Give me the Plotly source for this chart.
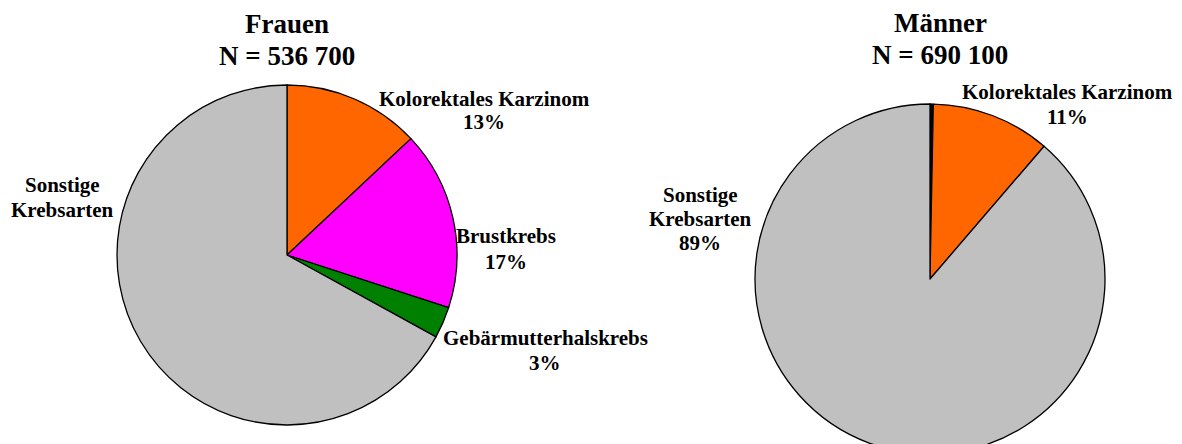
import plotly.graph_objects as go

# page offset of the figure (default body margin) is compensated below
OFF = 8
W, H = 1182, 470

# ---- data ----
frauen_title = "Frauen"
frauen_n = "N = 536 700"
frauen_labels = ["Kolorektales Karzinom", "Brustkrebs", "Gebärmutterhalskrebs", "Sonstige Krebsarten"]
frauen_values = [13, 17, 3, 67]
frauen_pct = ["13%", "17%", "3%", None]

maenner_title = "Männer"
maenner_n = "N = 690 100"
maenner_labels = ["(ohne Beschriftung)", "Kolorektales Karzinom", "Sonstige Krebsarten"]
maenner_values = [0.3, 11, 88.7]
maenner_pct = [None, "11%", "89%"]

# ---- styles ----
frauen_colors = ["#FF6600", "#FF00FF", "#008000", "#C0C0C0"]
maenner_colors = ["#000000", "#FF6600", "#C0C0C0"]
FONT = "Liberation Serif"


def px_x(x):
    return (x - OFF) / W


def px_y(y):
    return 1 - (y - OFF) / H


def pie(labels, values, colors, x0, x1, y_top, y_bot):
    return go.Pie(
        labels=labels, values=values, sort=False, direction="clockwise", rotation=0,
        marker=dict(colors=colors, line=dict(color="black", width=1.3)),
        textinfo="none", hoverinfo="label+percent", showlegend=False,
        domain=dict(x=[px_x(x0), px_x(x1)], y=[px_y(y_bot), px_y(y_top)]),
    )


fig = go.Figure()
fig.add_trace(pie(frauen_labels, frauen_values, frauen_colors, 117, 457, 85, 425))
fig.add_trace(pie(maenner_labels, maenner_values, maenner_colors, 755, 1105, 104, 454))

annotations = []


def add_text(text, x, y, size):
    annotations.append(dict(
        text=text, x=px_x(x), y=px_y(y), xref="paper", yref="paper",
        xanchor="center", yanchor="middle", showarrow=False,
        font=dict(family=FONT, size=size, color="black", weight="bold"),
    ))


# titles
add_text(frauen_title, 287, 24, 27)
add_text(frauen_n, 287, 56, 27)
add_text(maenner_title, 940, 23, 27)
add_text(maenner_n, 940, 55, 27)

LS = 21
frauen_pos = [
    (484, [99], 122),
    (506, [236], 262),
    (545, [338], 363),
    (62, [185, 210], None),
]
maenner_pos = [
    None,
    (1067, [92], 117),
    (700, [195, 219], 243),
]

for labels, pcts, positions in ((frauen_labels, frauen_pct, frauen_pos),
                                (maenner_labels, maenner_pct, maenner_pos)):
    for lab, pct, pos in zip(labels, pcts, positions):
        if pos is None:
            continue
        x, ys, yp = pos
        parts = lab.split(" ") if len(ys) > 1 else [lab]
        for part, yy in zip(parts, ys):
            add_text(part, x, yy, LS)
        if pct is not None and yp is not None:
            add_text(pct, x, yp, LS)

fig.update_layout(
    width=W, height=H,
    margin=dict(l=0, r=0, t=0, b=0),
    paper_bgcolor="white", plot_bgcolor="white",
    annotations=annotations,
    font=dict(family=FONT),
)

fig.write_html("out.html")
